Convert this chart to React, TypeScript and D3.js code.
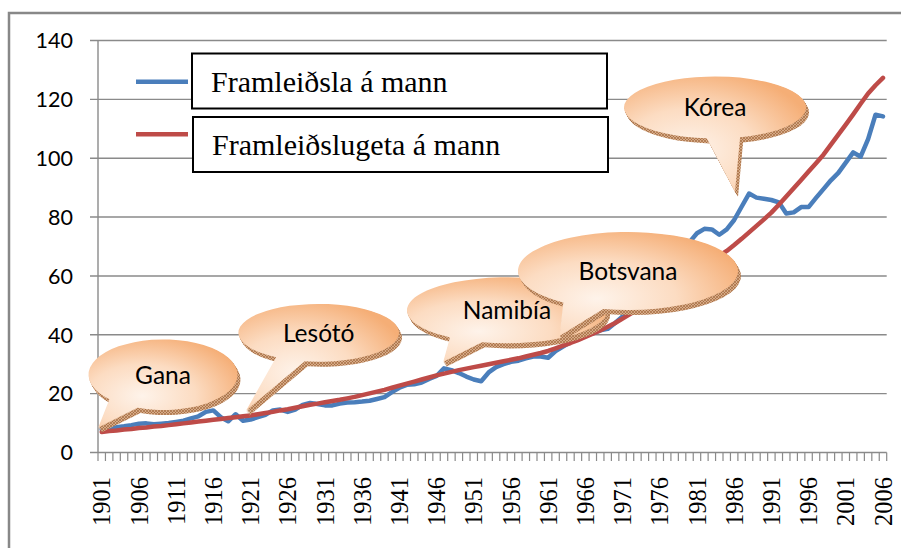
import React from "react";
import * as d3 from "d3";

const years: number[] = Array.from({ length: 106 }, (_, i) => 1901 + i);

const framleidsla: number[] = [
  7.8, 8.3, 8.6, 8.9, 9.3, 9.8, 9.9, 9.6, 9.8, 10.0,
  10.4, 10.8, 11.6, 12.3, 13.8, 14.3, 12.0, 10.6, 13.0, 10.8,
  11.2, 12.0, 12.8, 14.3, 14.6, 13.8, 14.6, 16.2, 16.8, 16.5,
  16.0, 16.0, 16.6, 17.0, 17.1, 17.3, 17.6, 18.2, 18.8, 20.5,
  22.0, 23.0, 23.2, 23.8, 25.0, 26.0, 28.6, 28.0, 27.0, 25.8,
  24.8, 24.2, 27.2, 29.0, 30.0, 30.8, 31.2, 32.0, 32.6, 32.6,
  32.2, 34.5, 36.0, 37.5, 38.5, 39.8, 40.5, 41.5, 42.0, 44.0,
  46.2, 48.5, 51.5, 53.5, 55.0, 57.0, 60.5, 64.0, 67.5, 71.5,
  74.5, 76.0, 75.8, 74.0, 75.8, 79.0, 83.5, 88.0, 86.6, 86.2,
  85.8, 85.0, 81.2, 81.6, 83.4, 83.4, 86.5, 89.5, 92.5, 95.0,
  98.5, 102.0, 100.5, 106.5, 114.8, 114.2,
];

const framleidslugeta: number[] = [
  7.0, 7.3, 7.5, 7.8, 8.0, 8.3, 8.5, 8.8, 9.0, 9.3,
  9.6, 9.9, 10.2, 10.5, 10.8, 11.1, 11.4, 11.7, 12.0, 12.3,
  12.6, 13.0, 13.4, 13.8, 14.3, 14.7, 15.2, 15.7, 16.2, 16.6,
  17.1, 17.5, 17.9, 18.4, 18.9, 19.5, 20.1, 20.7, 21.3, 22.0,
  22.7, 23.4, 24.1, 24.8, 25.5, 26.2, 26.8, 27.4, 28.0, 28.5,
  29.0, 29.5, 30.0, 30.5, 31.0, 31.5, 32.0, 32.6, 33.2, 33.8,
  34.5, 35.4, 36.3, 37.2, 38.2, 39.3, 40.4, 41.5, 42.7, 44.0,
  45.5, 47.0, 48.6, 50.2, 51.8, 53.4, 55.0, 56.7, 58.4, 60.1,
  61.8, 63.5, 65.3, 66.8, 68.5, 70.5, 72.6, 74.8, 77.0, 79.2,
  81.5, 84.2, 87.0, 89.8, 92.6, 95.5, 98.3, 101.2, 104.6, 108.0,
  111.4, 114.9, 118.5, 122.0, 124.8, 127.3,
];

const yTicks: number[] = [0, 20, 40, 60, 80, 100, 120, 140];
const seriesNames: string[] = ["Framleiðsla á mann", "Framleiðslugeta á mann"];
const seriesColors: string[] = ["#4A7EBB", "#BE4B48"];

type Callout = {
  label: string;
  cx: number; cy: number; rx: number; ry: number;
  a1: number; a2: number; tipX: number; tipY: number;
};

const callouts: Callout[] = [
  { label: "Gana", cx: 163, cy: 374.7, rx: 74.5, ry: 35.3, a1: 110, a2: 136, tipX: 98.3, tipY: 427.5 },
  { label: "Lesótó", cx: 318.7, cy: 332.8, rx: 80.3, ry: 28.9, a1: 100, a2: 122, tipX: 246, tipY: 410.7 },
  { label: "Namibía", cx: 507, cy: 310.3, rx: 100, ry: 33, a1: 104.5, a2: 124.8, tipX: 443.3, tipY: 361.7 },
  { label: "Botsvana", cx: 628, cy: 271, rx: 110, ry: 39, a1: 103, a2: 126, tipX: 559.5, tipY: 336 },
  { label: "Kórea", cx: 715, cy: 107.5, rx: 91, ry: 31, a1: 74, a2: 95.2, tipX: 735, tipY: 191.7 },
];

function calloutPath(c: Callout, dx = 0, dy = 0): string {
  const r = Math.PI / 180;
  const p = (a: number) => [c.cx + dx + c.rx * Math.cos(a * r), c.cy + dy + c.ry * Math.sin(a * r)];
  const hi = Math.max(c.a1, c.a2);
  const lo = Math.min(c.a1, c.a2);
  const [x0, y0] = p(hi);
  const [x1, y1] = p(lo);
  return `M${x0},${y0} A${c.rx},${c.ry} 0 1 1 ${x1},${y1} L${c.tipX + dx},${c.tipY + dy} Z`;
}

export default function App() {
  const x = d3.scaleBand<number>().domain(years).range([98, 886.7]);
  const y = d3.scaleLinear().domain([0, 140]).range([452.5, 40.5]);
  const cxOf = (yr: number) => (x(yr) as number) + x.bandwidth() / 2;
  const line = d3
    .line<number>()
    .x((_, i) => cxOf(years[i]))
    .y((v) => y(v));
  const series = [framleidsla, framleidslugeta];
  const boundaries = d3.range(years.length + 1).map((i) => 98 + i * x.bandwidth());
  const labelYears = years.filter((_, i) => i % 5 === 0);

  return (
    <svg
      width={901}
      height={548}
      style={{ position: "absolute", left: 0, top: 0, background: "#fff" }}
    >
      <defs>
        <radialGradient id="peach" cx="36%" cy="64%" r="72%">
          <stop offset="0" stopColor="#FEF3EA" />
          <stop offset="0.5" stopColor="#FCDCC2" />
          <stop offset="1" stopColor="#F5AE76" />
        </radialGradient>
        <pattern id="hatch" width="3" height="3" patternUnits="userSpaceOnUse">
          <rect width="3" height="3" fill="#D6AB88" />
          <path d="M0,0 L3,3 M3,0 L0,3" stroke="#9E6134" strokeWidth="0.6" />
        </pattern>
      </defs>
      <rect x={9} y={13} width={905} height={550} fill="none" stroke="#888" strokeWidth={2.5} />

      {yTicks.map((t) => (
        <g key={t}>
          <line x1={90} x2={886.7} y1={y(t)} y2={y(t)} stroke="#8A8A8A" strokeWidth={1.4} />
          <text
            x={73}
            y={y(t)}
            dy="0.36em"
            textAnchor="end"
            fontFamily="Lato, 'Noto Sans', sans-serif"
            fontSize={21.5}
            fill="#000"
          >
            {t}
          </text>
        </g>
      ))}
      <line x1={98} x2={98} y1={40.5} y2={452.5} stroke="#8A8A8A" strokeWidth={1.4} />
      {boundaries.map((bx, i) => (
        <line key={i} x1={bx} x2={bx} y1={452.5} y2={461} stroke="#8A8A8A" strokeWidth={1.2} />
      ))}
      {labelYears.map((yr) => (
        <text
          key={yr}
          transform={`translate(${cxOf(yr)},477) rotate(-90)`}
          dy="0.35em"
          textAnchor="end"
          fontFamily="'Liberation Serif', 'Times New Roman', serif"
          fontSize={24.5}
          fill="#000"
        >
          {yr}
        </text>
      ))}

      {series.map((s, i) => (
        <path
          key={i}
          d={line(s) || ""}
          fill="none"
          stroke={seriesColors[i]}
          strokeWidth={4.5}
          strokeLinejoin="round"
          strokeLinecap="round"
        />
      ))}

      {callouts.map((c) => (
        <g key={c.label}>
          {[1, 2, 3, 4, 5, 6].map((k) => (
            <path key={k} d={calloutPath(c, k * 0.5, k * 0.85)} fill="url(#hatch)" />
          ))}
          <path d={calloutPath(c)} fill="url(#peach)" />
          <text
            x={c.cx}
            y={c.cy}
            dy="0.36em"
            textAnchor="middle"
            fontFamily="Lato, 'Noto Sans', sans-serif"
            fontSize={24.5}
            fill="#000"
          >
            {c.label}
          </text>
        </g>
      ))}

      {seriesNames.map((name, i) => {
        const ly = i === 0 ? 81.7 : 134.3;
        const bx = i === 0 ? 192 : 193;
        const by = i === 0 ? 53.5 : 117;
        return (
          <g key={name}>
            <line x1={136} x2={188} y1={ly} y2={ly} stroke={seriesColors[i]} strokeWidth={4.5} />
            <rect x={bx} y={by} width={415} height={55} fill="#fff" stroke="#000" strokeWidth={2} />
            <text
              x={bx + 19}
              y={by + 38}
              fontFamily="'Liberation Serif', 'Times New Roman', serif"
              fontSize={30}
              fill="#000"
            >
              {name}
            </text>
          </g>
        );
      })}
    </svg>
  );
}
